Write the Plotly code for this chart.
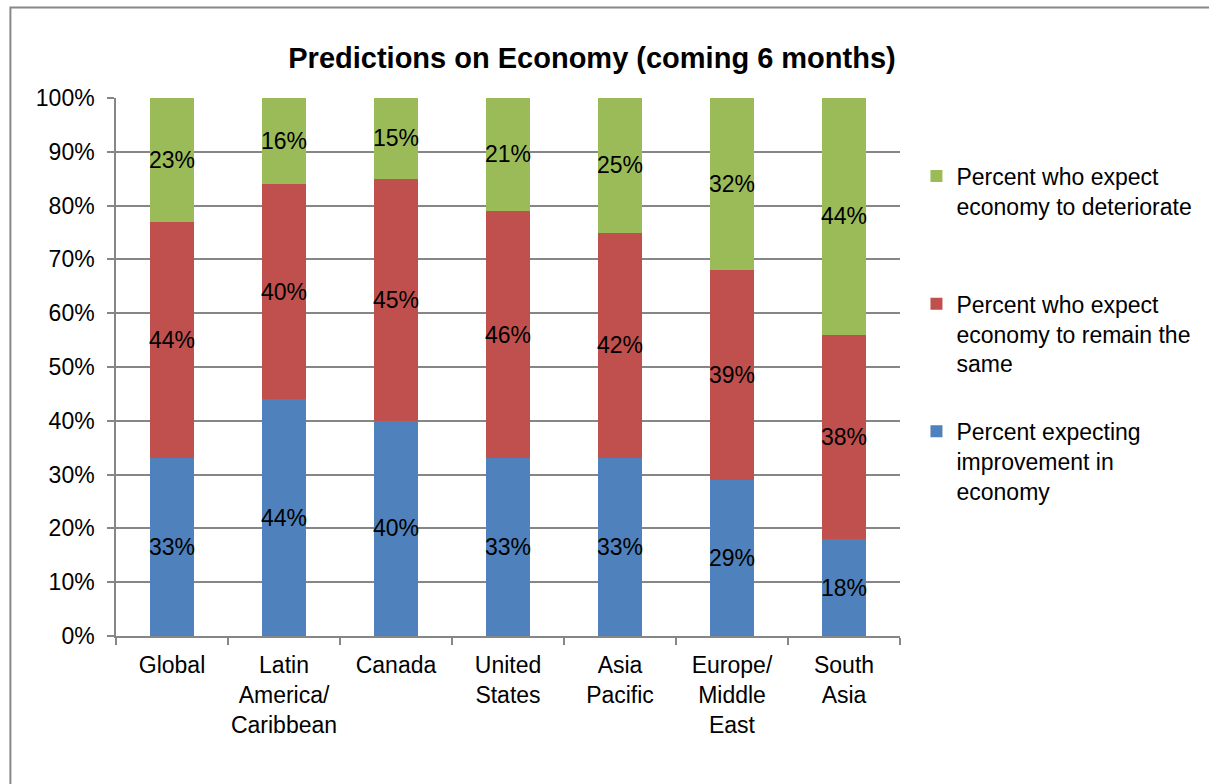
import plotly.graph_objects as go

# Regions on the horizontal axis (multi-line labels)
regions = [
    "Global",
    "Latin<br>America/<br>Caribbean",
    "Canada",
    "United<br>States",
    "Asia<br>Pacific",
    "Europe/<br>Middle<br>East",
    "South<br>Asia",
]

# Share of respondents (%) in each outlook group
improve = [33, 44, 40, 33, 33, 29, 18]
same = [44, 40, 45, 46, 42, 39, 38]
deteriorate = [23, 16, 15, 21, 25, 32, 44]

names = [
    "Percent expecting<br>improvement in<br>economy",
    "Percent who expect<br>economy to remain the<br>same",
    "Percent who expect<br>economy to deteriorate<br>\u00a0",
]
colors = ["#4F81BD", "#C0504D", "#9BBB59"]
legend_ranks = [3, 2, 1]

FONT = "Liberation Sans, Arial, sans-serif"
GRID = "#868686"
H = 784
W = 1209

fig = go.Figure()
for i, (vals, name, col, rank) in enumerate(
        zip([improve, same, deteriorate], names, colors, legend_ranks)):
    fig.add_trace(go.Bar(
        x=regions,
        y=vals,
        name=name,
        legendgroup=f"g{i}",
        legendrank=rank,
        marker=dict(color=col, line=dict(width=0)),
        text=[f"{v}%" for v in vals],
        textposition="inside",
        insidetextanchor="middle",
        constraintext="none",
        textangle=0,
        textfont=dict(family=FONT, size=23, color="black"),
        hoverinfo="skip",
    ))

fig.update_layout(
    width=W,
    height=H,
    barmode="stack",
    bargap=0.604,
    paper_bgcolor="white",
    plot_bgcolor="white",
    margin=dict(l=116, r=306, t=98, b=148),
    font=dict(family=FONT, size=23, color="black"),
    title=dict(
        text="<b>Predictions on Economy (coming 6 months)</b>",
        font=dict(family=FONT, size=29, color="black"),
        x=592 / W, xanchor="center", xref="container",
        y=1 - 58 / H, yref="container", yanchor="middle",
    ),
    legend=dict(
        x=1.021, xanchor="left",
        y=0.895, yanchor="top",
        traceorder="grouped",
        valign="top",
        tracegroupgap=35,
        font=dict(family=FONT, size=23, color="black"),
        bgcolor="rgba(0,0,0,0)",
    ),
    showlegend=True,
)

fig.update_xaxes(
    showline=True, linecolor=GRID, linewidth=1.5,
    ticks="outside", tickson="boundaries", ticklen=7, tickcolor=GRID, tickwidth=1.5,
    showgrid=False,
    tickangle=0,
    ticklabelstandoff=8,
    tickfont=dict(family=FONT, size=23, color="black"),
)
fig.update_yaxes(
    range=[0, 100], dtick=10, ticksuffix="%",
    showline=True, linecolor=GRID, linewidth=1.5,
    ticks="outside", ticklen=7, tickcolor=GRID, tickwidth=1.5,
    showgrid=True, gridcolor=GRID, gridwidth=1.5,
    zeroline=False,
    ticklabelstandoff=8,
    tickfont=dict(family=FONT, size=23, color="black"),
)

# Outer chart frame
fig.add_shape(
    type="rect", xref="paper", yref="paper",
    x0=(10 - 116) / 787, x1=(1215 - 116) / 787,
    y0=(636 - 795) / 538, y1=(636 - 7.5) / 538,
    line=dict(color="#888888", width=2), fillcolor="rgba(0,0,0,0)",
    layer="below",
)

fig.write_html("out.html")
